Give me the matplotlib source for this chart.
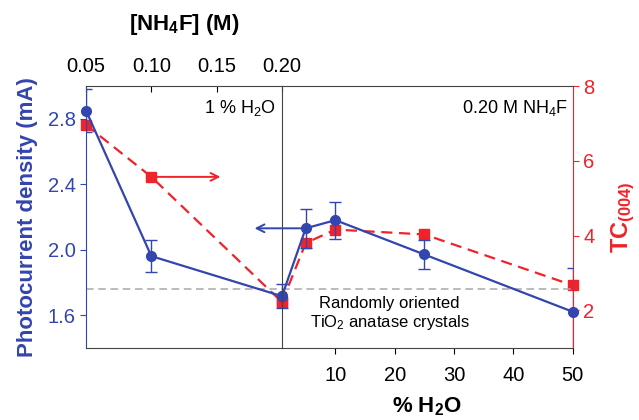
import matplotlib
matplotlib.use('Agg')
from matplotlib import pyplot as plt

plt.rcParams['font.family'] = ['Liberation Sans', 'DejaVu Sans']
plt.rcParams['mathtext.default'] = 'regular'

blue = '#3345AE'
red = '#F0222A'

# left panel: 1 % H2O, varying NH4F
nh4f = [0.05, 0.10, 0.20]
pc_nh4f = [2.85, 1.96, 1.715]
pc_nh4f_err = [0.13, 0.10, 0.075]
tc_nh4f = [6.96, 5.57, 2.22]

# right panel: 0.20 M NH4F, varying water
h2o = [1, 5, 10, 25, 50]
pc_h2o = [1.715, 2.13, 2.18, 1.97, 1.62]
pc_h2o_err = [0.075, 0.12, 0.113, 0.09, 0.27]
tc_h2o = [2.22, 3.8, 4.16, 4.03, 2.67]

random_pc = 1.757

fig = plt.figure(figsize=(6.39, 4.2), dpi=100)
ax1 = fig.add_axes([0.1346, 0.1721, 0.3067, 0.6231])
ax2 = fig.add_axes([0.4413, 0.1721, 0.4549, 0.6231])
ax1t = ax1.twinx()
ax2t = ax2.twinx()

for a in (ax1, ax2):
    a.set_ylim(1.4, 3.0)
    a.set_zorder(3)
    a.patch.set_visible(False)
for a in (ax1t, ax2t):
    a.set_ylim(1, 8)
ax1t.set_zorder(1)
ax2t.set_zorder(1)
ax1.set_xlim(0.05, 0.20)
ax1t.set_xlim(0.05, 0.20)
ax2.set_xlim(1, 50)
ax2t.set_xlim(1, 50)

# blue photocurrent (error bars clipped to the frame, markers not)
ax1.errorbar(nh4f, pc_nh4f, yerr=pc_nh4f_err, fmt='none', ecolor=blue,
             capsize=4, elinewidth=1)
ax2.errorbar(h2o, pc_h2o, yerr=pc_h2o_err, fmt='none', ecolor=blue,
             capsize=4, elinewidth=1)
ax1.plot(nh4f, pc_nh4f, color=blue, lw=1.6, marker='o', ms=7, clip_on=False)
ax2.plot(h2o, pc_h2o, color=blue, lw=1.6, marker='o', ms=7, clip_on=False)

# red TC
ax1t.plot(nh4f, tc_nh4f, color=red, ls=(0, (5, 3)), lw=1.6, marker='s', ms=6.5, clip_on=False)
ax2t.plot(h2o, tc_h2o, color=red, ls=(0, (5, 3)), lw=1.6, marker='s', ms=6.5, clip_on=False)

# random orientation reference
ax1.axhline(random_pc, color='#a8a8a8', ls=(0, (5, 3)), lw=1.1, zorder=0)
ax2.axhline(random_pc, color='#a8a8a8', ls=(0, (5, 3)), lw=1.1, zorder=0)

# arrows
ax1t.annotate('', xy=(0.155, tc_nh4f[1]), xytext=(nh4f[1], tc_nh4f[1]),
              arrowprops=dict(arrowstyle='->', color=red, lw=1.4, mutation_scale=14))
ax2.annotate('', xy=(-4.1, pc_h2o[1]), xytext=(h2o[1], pc_h2o[1]),
             arrowprops=dict(arrowstyle='->', color=blue, lw=1.4, mutation_scale=14),
             annotation_clip=False)

# left panel axes styling
ax1.xaxis.tick_top()
ax1.xaxis.set_label_position('top')
ax1.set_xticks([0.05, 0.10, 0.15, 0.20])
ax1.set_xticklabels(['0.05', '0.10', '0.15', '0.20'])
ax1.tick_params(axis='x', direction='in', length=4, labelsize=14.5, pad=7)
ax1.set_xlabel('[NH$_4$F] (M)', fontsize=16, fontweight='bold', labelpad=20)
ax1.set_yticks([1.6, 2.0, 2.4, 2.8])
ax1.set_yticklabels(['1.6', '2.0', '2.4', '2.8'])
ax1.tick_params(axis='y', colors=blue, labelsize=14.5, length=4)
ax1.set_ylabel('Photocurrent density (mA)', color=blue, fontsize=16, fontweight='bold', labelpad=7)
ax1.spines['left'].set_color(blue)
ax1.spines['right'].set_visible(False)
ax1.spines['top'].set_color('#444444')
ax1.spines['bottom'].set_color('#444444')

ax1t.axis('off')

# right panel axes styling
ax2.set_xticks([10, 20, 30, 40, 50])
ax2.tick_params(axis='x', direction='out', length=4, labelsize=14.5, pad=9)
ax2.set_xlabel('% H$_2$O', fontsize=16, fontweight='bold', labelpad=8)
ax2.set_yticks([])
ax2.spines['right'].set_visible(False)
for s in ('left', 'top', 'bottom'):
    ax2.spines[s].set_color('#444444')

for s in ('left', 'top', 'bottom'):
    ax2t.spines[s].set_visible(False)
ax2t.spines['right'].set_color(red)
ax2t.set_yticks([2, 4, 6, 8])
ax2t.tick_params(axis='y', colors=red, labelsize=14.5, length=4)
ax2t.set_ylabel('TC$_{(004)}$', color=red, fontsize=17, fontweight='bold', labelpad=11)
ax2t.tick_params(axis='x', bottom=False, labelbottom=False)

ax1.text(0.97, 0.955, '1 % H$_2$O', transform=ax1.transAxes, ha='right', va='top', fontsize=13)
ax2.text(0.985, 0.955, '0.20 M NH$_4$F', transform=ax2.transAxes, ha='right', va='top', fontsize=13)
ax2.text(0.37, 0.13, 'Randomly oriented\nTiO$_2$ anatase crystals', transform=ax2.transAxes,
         ha='center', va='center', fontsize=12, linespacing=1.15)

fig.savefig('out.png', dpi=100)
